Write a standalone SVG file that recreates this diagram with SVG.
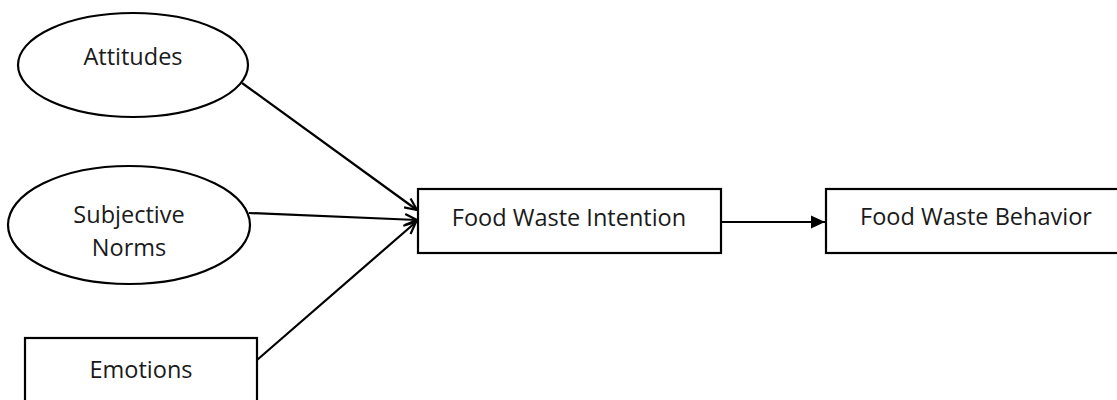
<svg xmlns="http://www.w3.org/2000/svg" width="1117" height="400" viewBox="0 0 1117 400">
<style>
.shape{fill:#fff;stroke:#000;stroke-width:2.2}
.lbl{font-family:"Open Sans","Liberation Sans",sans-serif;font-size:23.5px;fill:#1a1a1a;text-anchor:middle}
.edge{stroke:#000;stroke-width:2.2;fill:none}
</style>
<defs>
<marker id="open" viewBox="0 0 14 14" refX="13" refY="7" markerWidth="14" markerHeight="14" markerUnits="userSpaceOnUse" orient="auto">
<path d="M1,1.5 L13,7 L1,12.5" fill="none" stroke="#000" stroke-width="2.2"/>
</marker>
<marker id="solid" viewBox="0 0 14 14" refX="14" refY="7" markerWidth="14" markerHeight="14" markerUnits="userSpaceOnUse" orient="auto">
<path d="M0,0.5 L14,7 L0,13.5 Z" fill="#000"/>
</marker>
</defs>
<rect width="1117" height="400" fill="#fff"/>
<g id="connectors">
<line class="edge" x1="242" y1="83" x2="417" y2="210" marker-end="url(#open)"/>
<line class="edge" x1="249" y1="213" x2="417" y2="220" marker-end="url(#open)"/>
<line class="edge" x1="257" y1="360" x2="416" y2="222" marker-end="url(#open)"/>
<line class="edge" x1="721" y1="222" x2="825" y2="222" marker-end="url(#solid)"/>
</g>
<g id="attitudes">
<ellipse class="shape" cx="133" cy="65" rx="115" ry="52"/>
<text class="lbl" x="133" y="65">Attitudes</text>
</g>
<g id="subjective-norms">
<ellipse class="shape" cx="129" cy="225" rx="121" ry="59"/>
<text class="lbl" x="129" y="223">Subjective</text>
<text class="lbl" x="129" y="256">Norms</text>
</g>
<g id="emotions">
<rect class="shape" x="25" y="338" width="232" height="80"/>
<text class="lbl" x="141" y="378">Emotions</text>
</g>
<g id="food-waste-intention">
<rect class="shape" x="418" y="189" width="303" height="64"/>
<text class="lbl" x="569" y="226">Food Waste Intention</text>
</g>
<g id="food-waste-behavior">
<rect class="shape" x="826" y="189" width="300" height="64"/>
<text class="lbl" x="976" y="225">Food Waste Behavior</text>
</g>
</svg>
